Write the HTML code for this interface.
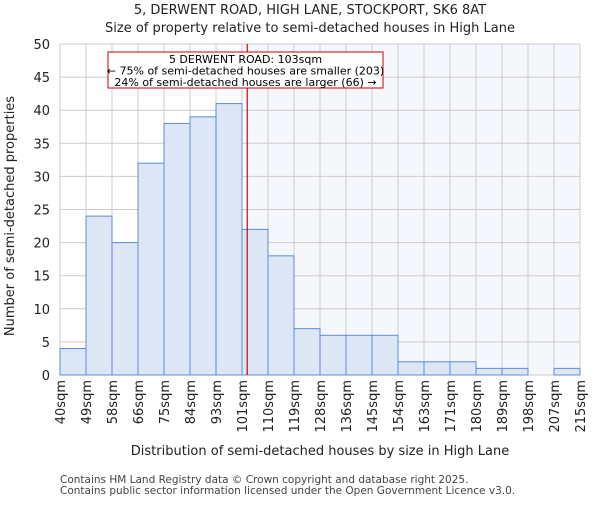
<!DOCTYPE html>
<html><head><meta charset="utf-8"><style>body{margin:0;background:#fff}svg{font-family:"DejaVu Sans","Liberation Sans",sans-serif}</style></head>
<body>
<svg id="c" width="600" height="500"></svg>
<script>
const categories=["40sqm","49sqm","58sqm","66sqm","75sqm","84sqm","93sqm","101sqm","110sqm","119sqm","128sqm","136sqm","145sqm","154sqm","163sqm","171sqm","180sqm","189sqm","198sqm","207sqm","215sqm"];
const counts=[4,24,20,32,38,39,41,22,18,7,6,6,6,2,2,2,1,1,0,1];
const yTicks=[0,5,10,15,20,25,30,35,40,45,50];
const markerBin=7.2;
const svg=document.getElementById('c');const NS='http://www.w3.org/2000/svg';
const L=60,R=580,T=44,B=375,yMax=50,nb=counts.length;
const x=i=>L+(R-L)*i/nb, y=v=>B-(B-T)*v/yMax;
function mk(t,a,txt){const e=document.createElementNS(NS,t);for(const k in a)e.setAttribute(k,a[k]);if(txt!=null)e.textContent=txt;svg.appendChild(e);return e;}
let e;
e=mk('rect',{x:x(markerBin),y:T,width:R-x(markerBin),height:B-T,fill:'#f5f7fd'});


yTicks.forEach(v=>{e=mk('line',{x1:L,x2:R,y1:y(v),y2:y(v),stroke:'#cccccc'});


e=mk('text',{x:L-10,y:y(v)+5,'text-anchor':'end','font-size':13,fill:'#222'},v);

});
categories.forEach((c,i)=>{e=mk('line',{x1:x(i),x2:x(i),y1:T,y2:B,stroke:'#cccccc'});


e=mk('text',{transform:`translate(${x(i)+5},${B+5}) rotate(-90)`,'text-anchor':'end','font-size':13,fill:'#222'},c);

});
counts.forEach((v,i)=>{if(v<=0)return;e=mk('rect',{x:x(i),y:y(v),width:x(i+1)-x(i),height:B-y(v),fill:'#dce6f4',stroke:'#5b8dd6','stroke-width':1});

});
e=mk('line',{x1:x(markerBin),x2:x(markerBin),y1:T,y2:B,stroke:'#cc0000','stroke-width':1.2});


e=mk('rect',{x:108,y:52,width:275,height:36,fill:'#fff',stroke:'#cc0000'});


[["5 DERWENT ROAD: 103sqm",63],["← 75% of semi-detached houses are smaller (203)",74.5],["24% of semi-detached houses are larger (66) →",86]].forEach(([t,yy])=>{e=mk('text',{x:245.5,y:yy,'text-anchor':'middle','font-size':11,fill:'#000'},t);

});
e=mk('text',{x:310,y:14,'text-anchor':'middle','font-size':13,fill:'#222'},'5, DERWENT ROAD, HIGH LANE, STOCKPORT, SK6 8AT');


e=mk('text',{x:310,y:32,'text-anchor':'middle','font-size':13,fill:'#222'},'Size of property relative to semi-detached houses in High Lane');


e=mk('text',{x:320,y:455,'text-anchor':'middle','font-size':13,fill:'#222'},'Distribution of semi-detached houses by size in High Lane');


e=mk('text',{transform:'translate(14,216) rotate(-90)','text-anchor':'middle','font-size':13,fill:'#222'},'Number of semi-detached properties');


e=mk('text',{x:60,y:483,'font-size':10.5,fill:'#444'},'Contains HM Land Registry data © Crown copyright and database right 2025.');


e=mk('text',{x:60,y:494,'font-size':10.5,fill:'#444'},'Contains public sector information licensed under the Open Government Licence v3.0.');


</script>
</body></html>
